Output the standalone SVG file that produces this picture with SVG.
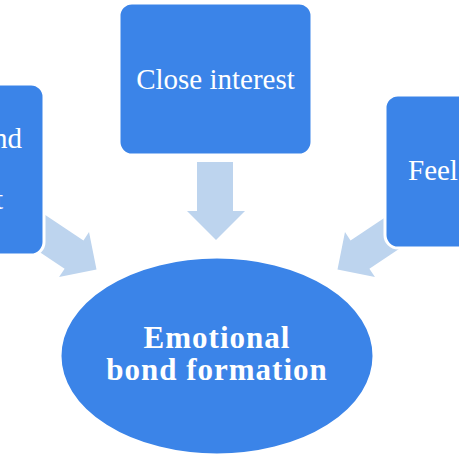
<svg xmlns="http://www.w3.org/2000/svg" width="459" height="459" viewBox="0 0 459 459">
<style>
.box{fill:#3B84E8;stroke:#ffffff;stroke-width:3}
.arr{fill:#BDD4EE}
.t{font-family:"Liberation Serif","Times New Roman",serif;font-size:29px;fill:#ffffff}
.tb{font-family:"Liberation Serif","Times New Roman",serif;font-size:31px;font-weight:bold;fill:#ffffff;letter-spacing:1px}
</style>
<rect width="459" height="459" fill="#ffffff"/>
<g id="connectors">
<path class="arr" transform="translate(96.5,269.5) rotate(33.7)" d="M0,0 L-27,-27 L-27,-17 L-90,-17 L-90,17 L-27,17 L-27,27 Z"/>
<path class="arr" transform="translate(337.5,269.5) rotate(146.3)" d="M0,0 L-27,-27 L-27,-17 L-90,-17 L-90,17 L-27,17 L-27,27 Z"/>
<path class="arr" d="M216,240 L187,211 L197,211 L197,162 L233,162 L233,211 L245,211 Z"/>
</g>
<g id="node-left">
<rect class="box" x="-160" y="84" width="204" height="171" rx="13"/>
<text class="t" x="22" y="148" text-anchor="end">nd</text>
<text class="t" x="3" y="209" text-anchor="end">t</text>
</g>
<g id="node-top">
<rect class="box" x="119" y="3" width="193" height="152" rx="13"/>
<text class="t" x="215.5" y="89" text-anchor="middle">Close interest</text>
</g>
<g id="node-right">
<rect class="box" x="385" y="95" width="200" height="153" rx="13"/>
<text class="t" x="408" y="180">Feel</text>
</g>
<g id="node-center">
<ellipse class="box" cx="217" cy="356" rx="157" ry="99" stroke="none"/>
<text class="tb" x="217" y="348" text-anchor="middle">Emotional</text>
<text class="tb" x="217" y="380" text-anchor="middle">bond formation</text>
</g>
</svg>
